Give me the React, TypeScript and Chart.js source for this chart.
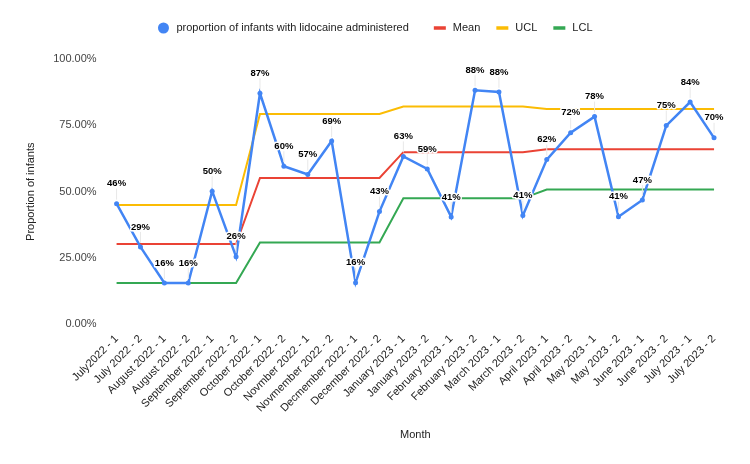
import React, { useEffect, useRef } from "react";
import { Chart, registerables } from "chart.js";

Chart.register(...registerables);

const categories = [
  "July2022 - 1", "July 2022 - 2", "August 2022 - 1", "August 2022 - 2",
  "September 2022 - 1", "September 2022 - 2", "October 2022 - 1", "October 2022 - 2",
  "Novmber 2022 - 1", "Novmember 2022 - 2", "Decmember 2022 - 1", "December 2022 - 2",
  "January 2023 - 1", "January 2023 - 2", "February 2023 - 1", "February 2023 - 2",
  "March 2023 - 1", "March 2023 - 2", "April 2023 - 1", "April 2023 - 2",
  "May 2023 - 1", "May 2023 - 2", "June 2023 - 1", "June 2023 - 2",
  "July 2023 - 1", "July 2023 - 2",
];

const proportion = [
  45.5, 29.2, 15.6, 15.6, 50.2, 25.5, 87.1, 59.6, 56.5, 69.1, 15.7, 42.5,
  63.3, 58.6, 40.5, 88.2, 87.6, 41.0, 62.1, 72.2, 78.3, 40.6, 46.9, 74.9,
  83.8, 70.3,
];

const mean = [
  30.3, 30.3, 30.3, 30.3, 30.3, 30.3, 55.2, 55.2, 55.2, 55.2, 55.2, 55.2,
  64.9, 64.9, 64.9, 64.9, 64.9, 64.9, 66.0, 66.0, 66.0, 66.0, 66.0, 66.0,
  66.0, 66.0,
];

const ucl = [
  45.0, 45.0, 45.0, 45.0, 45.0, 45.0, 79.3, 79.3, 79.3, 79.3, 79.3, 79.3,
  82.1, 82.1, 82.1, 82.1, 82.1, 82.1, 81.2, 81.2, 81.2, 81.2, 81.2, 81.2,
  81.2, 81.2,
];

const lcl = [
  15.6, 15.6, 15.6, 15.6, 15.6, 15.6, 30.9, 30.9, 30.9, 30.9, 30.9, 30.9,
  47.5, 47.5, 47.5, 47.5, 47.5, 47.5, 50.8, 50.8, 50.8, 50.8, 50.8, 50.8,
  50.8, 50.8,
];

const yTicks = [0, 25, 50, 75, 100];

const seriesNames = ["proportion of infants with lidocaine administered", "Mean", "UCL", "LCL"];
const seriesColors = ["#4285f4", "#ea4335", "#fbbc04", "#34a853"];

const FONT = "Arial, 'Liberation Sans', sans-serif";

const labelPlugin = {
  id: "pointLabels",
  afterDatasetsDraw(chart: any) {
    const ctx = chart.ctx;
    const meta = chart.getDatasetMeta(0);
    ctx.save();
    ctx.font = `bold 9.5px ${FONT}`;
    ctx.textAlign = "center";
    ctx.textBaseline = "middle";
    meta.data.forEach((pt: any, i: number) => {
      const x = pt.x;
      const y = pt.y;
      ctx.strokeStyle = "#e8e8e8";
      ctx.lineWidth = 1;
      ctx.beginPath();
      ctx.moveTo(x, y - 4);
      ctx.lineTo(x, y - 15);
      ctx.stroke();
      const txt = Math.round(proportion[i]) + "%";
      ctx.strokeStyle = "#ffffff";
      ctx.lineWidth = 3;
      ctx.lineJoin = "round";
      ctx.strokeText(txt, x, y - 20);
      ctx.fillStyle = "#000000";
      ctx.fillText(txt, x, y - 20);
    });
    ctx.restore();
  },
};

const legendPlugin = {
  id: "customLegend",
  afterDraw(chart: any) {
    const ctx = chart.ctx;
    ctx.save();
    ctx.font = `11px ${FONT}`;
    ctx.textBaseline = "middle";
    ctx.textAlign = "left";
    const markerW = 12;
    const gapText = 7;
    const gaps = [25, 16, 16];
    const widths = seriesNames.map((n) => ctx.measureText(n).width);
    let total = 0;
    widths.forEach((w, i) => {
      total += markerW + gapText + w + (i < gaps.length ? gaps[i] : 0);
    });
    let x = chart.width / 2 - total / 2;
    const y = 28;
    seriesNames.forEach((name, i) => {
      ctx.fillStyle = seriesColors[i];
      if (i === 0) {
        ctx.beginPath();
        ctx.arc(x + markerW / 2, y, 5.5, 0, Math.PI * 2);
        ctx.fill();
      } else {
        ctx.fillRect(x, y - 1.75, markerW, 3.5);
      }
      ctx.fillStyle = "#222222";
      ctx.fillText(name, x + markerW + gapText, y);
      x += markerW + gapText + widths[i] + (i < gaps.length ? gaps[i] : 0);
    });
    ctx.restore();
  },
};

export default function App() {
  const ref = useRef<HTMLCanvasElement | null>(null);
  useEffect(() => {
    document.body.style.margin = "0";
    const mk = (i: number, data: number[], extra: any) => ({
      label: seriesNames[i],
      data,
      borderColor: seriesColors[i],
      backgroundColor: seriesColors[i],
      ...extra,
    });
    const chart = new Chart(ref.current as HTMLCanvasElement, {
      type: "line",
      data: {
        labels: categories,
        datasets: [
          mk(0, proportion, { borderWidth: 2.5, pointRadius: 2.5, pointBorderWidth: 0, order: 0 }),
          mk(1, mean, { borderWidth: 2, pointRadius: 0, order: 1 }),
          mk(2, ucl, { borderWidth: 2, pointRadius: 0, order: 2 }),
          mk(3, lcl, { borderWidth: 2, pointRadius: 0, order: 3 }),
        ],
      },
      options: {
        animation: false,
        responsive: true,
        maintainAspectRatio: false,
        layout: { padding: { top: 59, right: 24, bottom: 22, left: 24 } },
        plugins: {
          legend: { display: false },
          tooltip: { enabled: false },
        },
        scales: {
          x: {
            offset: true,
            grid: { display: false, drawTicks: false },
            border: { display: false },
            ticks: {
              autoSkip: false,
              maxRotation: 45,
              minRotation: 45,
              color: "#222222",
              padding: 8,
              font: { family: FONT, size: 11 },
            },
            title: {
              display: true,
              text: "Month",
              color: "#222222",
              font: { family: FONT, size: 11 },
              padding: { top: 6, bottom: 0 },
            },
          },
          y: {
            min: 0,
            max: 100,
            afterBuildTicks: (axis: any) => {
              axis.ticks = yTicks.map((v) => ({ value: v }));
            },
            grid: { display: false, drawTicks: false },
            border: { display: false },
            ticks: {
              color: "#444444",
              padding: 8,
              font: { family: FONT, size: 11 },
              callback: (v: any) => Number(v).toFixed(2) + "%",
            },
            title: {
              display: true,
              text: "Proportion of infants",
              color: "#222222",
              font: { family: FONT, size: 11 },
              padding: { top: 0, bottom: 8 },
            },
          },
        },
      },
      plugins: [labelPlugin, legendPlugin],
    });
    return () => chart.destroy();
  }, []);
  return (
    <div style={{ position: "absolute", left: 0, top: 0, width: 750, height: 464 }}>
      <canvas ref={ref} />
    </div>
  );
}
